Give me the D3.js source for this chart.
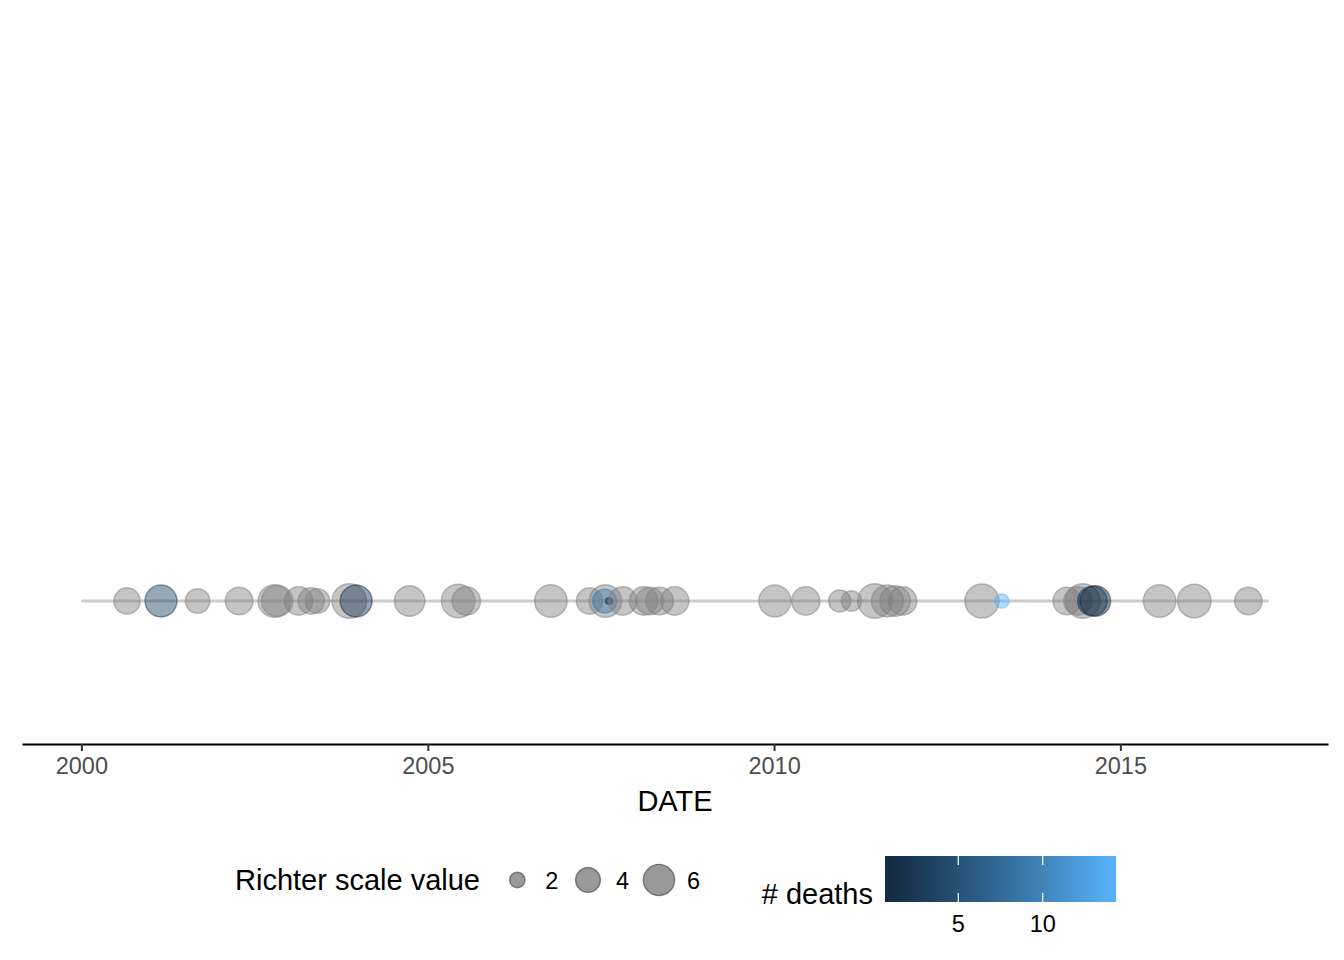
<!DOCTYPE html>
<html>
<head>
<meta charset="utf-8">
<script src="https://cdn.jsdelivr.net/npm/d3@7"></script>
<style>
  body { margin: 0; background: #fff; }
  svg { display: block; font-family: "Liberation Sans", Arial, sans-serif; }
</style>
</head>
<body>
<div class="container"></div>
<script>
// quake dates, Richter value and deaths (null = not recorded)
const dates = ["2000-08-29","2001-02-24","2001-09-05","2002-04-12","2002-10-15","2002-10-30",
  "2003-02-20","2003-04-27","2003-05-30","2003-11-14","2003-12-20","2004-09-27",
  "2005-06-10","2005-07-23","2006-10-12","2007-05-04","2007-07-27","2007-07-23",
  "2007-08-14","2007-10-26","2008-02-13","2008-03-17","2008-05-07","2008-07-26",
  "2010-01-05","2010-06-17","2010-12-13","2011-02-13","2011-06-17","2011-08-22",
  "2011-10-01","2011-11-10","2013-01-01","2013-04-16","2014-03-25","2014-05-22",
  "2014-06-17","2014-08-07","2014-08-22","2015-07-27","2016-01-26","2016-11-06"];
const richter = [4.4, 6.2, 3.9, 4.8, 6.4, 6.0,
  5.0, 4.4, 3.9, 7.2, 6.2, 5.7,
  6.8, 5.0, 6.4, 4.4, 6.4, 3.7,
  1.1, 5.0, 5.0, 4.8, 4.8, 5.0,
  6.2, 5.0, 3.3, 2.9, 7.2, 6.2,
  5.7, 5.0, 7.0, 1.8, 4.8, 5.0,
  7.2, 5.4, 5.7, 6.4, 6.8, 4.7];
const deaths = [null, 3, null, null, null, null,
  null, null, null, null, 2, null,
  null, null, null, null, null, 9,
  1, null, null, null, null, null,
  null, null, null, null, null, null,
  null, null, null, 14, null, null,
  null, 2, 1, null, null, null];
const lineDates = ["2000-01-01", "2017-02-21"];
const sizeBreaks = [2, 4, 6];
const deathBreaks = [5, 10];
const deathLimits = [1, 14];

const parse = d3.timeParse("%Y-%m-%d");
const quakes = dates.map((d, i) => ({date: parse(d), richter: richter[i], deaths: deaths[i]}));

const W = 1344, H = 960;
const svg = d3.select("div.container").append("svg")
    .attr("width", W).attr("height", H);

// x scale with ggplot style 5% expansion
const ext = lineDates.map(parse);
const span = ext[1] - ext[0];
const x = d3.scaleTime()
    .domain([new Date(+ext[0] - span * 0.05), new Date(+ext[1] + span * 0.05)])
    .range([22, 1328]);
const y = d3.scaleLinear().domain([-1, 1]).range([744, 458]);

// radius: area scale rescaled to [0,1] then sqrt
const rescale = d3.scaleLinear().domain([1, 7.2]).range([0, 1]).clamp(true);
const rSqrt = d3.scaleSqrt().domain([0, 1]).range([2, 18]);
const r = v => rSqrt(rescale(v));

const color = d3.scaleLinear().domain(deathLimits)
    .range(["#132B43", "#56B1F7"]).interpolate(d3.interpolateLab);
const naColor = "#7f7f7f";

// timeline
svg.append("line")
    .attr("x1", x(ext[0])).attr("x2", x(ext[1]))
    .attr("y1", y(0)).attr("y2", y(0))
    .attr("stroke", "#7f7f7f").attr("stroke-opacity", 0.4)
    .attr("stroke-width", 3);

// quakes
svg.append("g").selectAll("circle")
    .data(quakes)
    .join("circle")
    .attr("cx", d => x(d.date))
    .attr("cy", y(0))
    .attr("r", d => r(d.richter) - 0.7)
    .attr("fill", d => d.deaths == null ? naColor : color(d.deaths))
    .attr("fill-opacity", 0.45)
    .attr("stroke", d => d.deaths == null ? naColor : color(d.deaths))
    .attr("stroke-opacity", 0.5)
    .attr("stroke-width", 1.5);

// x axis
const xAxis = d3.axisBottom(x)
    .ticks(d3.timeYear.every(5))
    .tickFormat(d3.timeFormat("%Y"))
    .tickSizeInner(7).tickSizeOuter(0).tickPadding(6);
const ax = svg.append("g")
    .attr("transform", "translate(0,744)")
    .call(xAxis);
ax.select(".domain").attr("stroke", "#000").attr("stroke-width", 2);
ax.selectAll(".tick line").attr("stroke", "#333").attr("stroke-width", 2);
ax.selectAll(".tick text")
    .attr("fill", "#4d4d4d")
    .style("font-size", "23.5px")
    .attr("font-family", "Liberation Sans, Arial, sans-serif");

svg.append("text")
    .attr("x", 675).attr("y", 811)
    .attr("text-anchor", "middle")
    .style("font-size", "29px")
    .text("DATE");

// size legend
const sizeLegend = svg.append("g");
sizeLegend.append("text")
    .attr("x", 235).attr("y", 890)
    .style("font-size", "29px")
    .text("Richter scale value");
const keyX = [517.3, 588, 659];
sizeLegend.selectAll("circle")
    .data(sizeBreaks)
    .join("circle")
    .attr("cx", (d, i) => keyX[i])
    .attr("cy", 880)
    .attr("r", d => r(d) - 0.7)
    .attr("fill", "#000").attr("fill-opacity", 0.4)
    .attr("stroke", "#000").attr("stroke-opacity", 0.4)
    .attr("stroke-width", 1.4);
sizeLegend.selectAll("text.lab")
    .data(sizeBreaks)
    .join("text")
    .attr("class", "lab")
    .attr("x", (d, i) => keyX[i] + 28)
    .attr("y", 888.5)
    .style("font-size", "23.5px")
    .text(d => d);

// colour legend
const bar = {x: 885, y: 856, w: 231, h: 46, nbin: 20};
const grad = svg.append("defs").append("linearGradient")
    .attr("id", "deathGrad");
d3.range(0, 11).forEach(i => {
  const t = i / 10;
  grad.append("stop")
      .attr("offset", 0.025 + 0.95 * t)
      .attr("stop-color", color(deathLimits[0] + t * (deathLimits[1] - deathLimits[0])));
});
const cbar = svg.append("g");
cbar.append("text")
    .attr("x", 873).attr("y", 904)
    .attr("text-anchor", "end")
    .style("font-size", "29px")
    .text("# deaths");
cbar.append("rect")
    .attr("x", bar.x).attr("y", bar.y)
    .attr("width", bar.w).attr("height", bar.h)
    .attr("fill", "url(#deathGrad)");
const barX = d3.scaleLinear().domain(deathLimits)
    .range([bar.x + bar.w * 0.5 / bar.nbin, bar.x + bar.w * (bar.nbin - 0.5) / bar.nbin]);
deathBreaks.forEach(b => {
  [[bar.y, bar.y + 9], [bar.y + bar.h - 9, bar.y + bar.h]].forEach(([a, c]) => {
    cbar.append("line")
        .attr("x1", barX(b)).attr("x2", barX(b))
        .attr("y1", a).attr("y2", c)
        .attr("stroke", "#fff").attr("stroke-width", 1.2);
  });
  cbar.append("text")
      .attr("x", barX(b)).attr("y", 931.5)
      .attr("text-anchor", "middle")
      .style("font-size", "23.5px")
      .text(b);
});
</script>
</body>
</html>
